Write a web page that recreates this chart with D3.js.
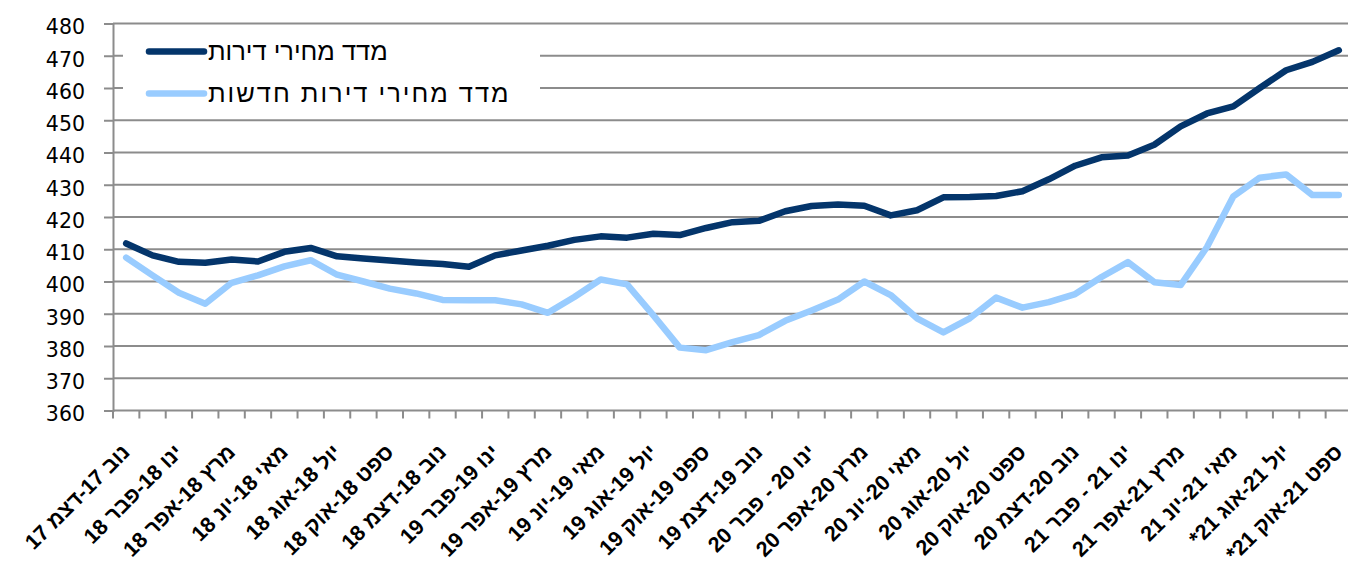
<!DOCTYPE html>
<html><head><meta charset="utf-8">
<script src="https://cdn.jsdelivr.net/npm/d3@7/dist/d3.min.js"></script>
<style>
html,body{margin:0;padding:0;background:#fff;}
svg{display:block;}
</style></head>
<body>
<svg id="chart" width="1348" height="567"></svg>
<script>
const categories = [
"נוב 17-דצמ 17","דצמ 17-ינו 18","ינו 18-פבר 18","פבר 18-מרץ 18","מרץ 18-אפר 18","אפר 18-מאי 18",
"מאי 18-יונ 18","יונ 18-יול 18","יול 18-אוג 18","אוג 18-ספט 18","ספט 18-אוק 18","אוק 18-נוב 18",
"נוב 18-דצמ 18","דצמ 18-ינו 19","ינו 19-פבר 19","פבר 19-מרץ 19","מרץ 19-אפר 19","אפר 19-מאי 19",
"מאי 19-יונ 19","יונ 19-יול 19","יול 19-אוג 19","אוג 19-ספט 19","ספט 19-אוק 19","אוק 19-נוב 19",
"נוב 19-דצמ 19","דצמ 19-ינו 20","ינו 20 - פבר 20","פבר 20-מרץ 20","מרץ 20-אפר 20","אפר 20-מאי 20",
"מאי 20-יונ 20","יונ 20-יול 20","יול 20-אוג 20","אוג 20-ספט 20","ספט 20-אוק 20","אוק 20-נוב 20",
"נוב 20-דצמ 20","דצמ 20-ינו 21","ינו 21 - פבר 21","פבר 21-מרץ 21","מרץ 21-אפר 21","אפר 21-מאי 21",
"מאי 21-יונ 21","יונ 21-יול 21","יול 21-אוג 21*","אוג 21-ספט 21*","ספט 21-אוק 21*"
];
// every other category carries a visible label
const tickLabels = categories.filter((d, i) => i % 2 === 0);

const seriesNames = ["מדד מחירי דירות", "מדד מחירי דירות חדשות"];
const housingIndex = [
411.8,408.1,406.1,405.8,406.8,406.2,409.2,410.4,407.8,407.1,406.5,405.9,
405.4,404.6,408.1,409.6,411.1,412.9,414.0,413.6,414.8,414.4,416.6,418.4,
418.8,421.8,423.4,423.9,423.5,420.5,422.1,426.1,426.2,426.5,428.0,431.7,
435.9,438.5,439.1,442.4,448.1,452.1,454.3,460.0,465.5,468.1,471.7
];
const newHousingIndex = [
407.4,401.9,396.5,393.1,399.6,401.9,404.7,406.6,402.1,400.0,397.8,396.3,
394.3,394.2,394.2,392.9,390.3,395.2,400.6,399.1,389.5,379.5,378.7,381.2,
383.4,387.8,391.0,394.4,400.0,395.8,388.6,384.2,388.6,395.0,391.9,393.6,
396.1,401.4,406.0,399.8,398.9,410.7,426.4,432.2,433.2,426.8,426.8
];
const yTicks = [360,370,380,390,400,410,420,430,440,450,460,470,480];
const colors = ["#04356b", "#99ccff"];

const svg = d3.select("#chart");
const plotLeft = 113, plotRight = 1352, plotTop = 23.5, plotBottom = 410.5;

const x = d3.scaleBand().domain(d3.range(categories.length)).range([plotLeft, plotRight]).paddingInner(0).paddingOuter(0);
const y = d3.scaleLinear().domain([360, 480]).range([plotBottom, plotTop]);
const cx = i => x(i) + x.bandwidth() / 2;

const gridColor = "#8c8c8c";

// gridlines
svg.append("g").selectAll("line").data(yTicks.filter(v => v > 360)).join("line")
  .attr("x1", plotLeft).attr("x2", plotRight)
  .attr("y1", d => y(d)).attr("y2", d => y(d))
  .attr("stroke", gridColor).attr("stroke-width", 2);

// y axis
const yAxis = d3.axisLeft(y).tickValues(yTicks).tickSize(9).tickPadding(19).tickFormat(d3.format("d"));
const gy = svg.append("g").attr("transform", `translate(${plotLeft},0)`).call(yAxis);
gy.select(".domain").attr("stroke", gridColor).attr("stroke-width", 2);
gy.selectAll(".tick line").attr("stroke", gridColor).attr("stroke-width", 2);
gy.selectAll(".tick text").attr("fill", "#000").attr("dy", "0.5em")
  .style("font-family", "'DejaVu Sans', sans-serif").style("font-size", "20.5px");

// x axis (ticks at category boundaries)
const boundaries = d3.range(categories.length + 1);
svg.append("g").selectAll("line").data(boundaries).join("line")
  .attr("x1", i => i < categories.length ? x(i) : plotRight)
  .attr("x2", i => i < categories.length ? x(i) : plotRight)
  .attr("y1", plotBottom).attr("y2", plotBottom + 8)
  .attr("stroke", gridColor).attr("stroke-width", 2);
svg.append("line").attr("x1", plotLeft).attr("x2", plotRight).attr("y1", plotBottom).attr("y2", plotBottom)
  .attr("stroke", gridColor).attr("stroke-width", 2);

// x labels
svg.append("g").selectAll("text").data(tickLabels).join("text")
  .attr("transform", (d, k) => `translate(${cx(k * 2) + 5},${plotBottom + 43}) rotate(-45)`)
  .attr("direction", "rtl")
  .style("direction", "rtl")
  .attr("text-anchor", "start")
  .style("font-family", "'Liberation Sans', Arial, sans-serif")
  .style("font-weight", "bold")
  .style("font-size", "21.5px")
  .attr("fill", "#000")
  .text(d => d);

// lines
const line = d3.line().x((d, i) => cx(i)).y(d => y(d));
[housingIndex, newHousingIndex].forEach((s, k) => {
  svg.append("path").datum(s)
    .attr("d", line)
    .attr("fill", "none")
    .attr("stroke", colors[k])
    .attr("stroke-width", 6.5)
    .attr("stroke-linejoin", "round")
    .attr("stroke-linecap", "round");
});

// legend
const lg = svg.append("g");
lg.append("rect").attr("x", 123).attr("y", 33).attr("width", 417).attr("height", 77).attr("fill", "#fff");
seriesNames.forEach((name, k) => {
  const ly = 51.5 + k * 42;
  lg.append("line").attr("x1", 149).attr("x2", 204).attr("y1", ly).attr("y2", ly)
    .attr("stroke", colors[k]).attr("stroke-width", 6.5).attr("stroke-linecap", "round");
  lg.append("text").attr("x", 208).attr("y", ly + 8.5)
    .attr("direction", "rtl").style("direction", "rtl")
    .attr("text-anchor", "end")
    .style("font-family", "'Liberation Sans', Arial, sans-serif")
    .style("font-size", "25.5px")
    .style("letter-spacing", k === 1 ? "2px" : "0px")
    .attr("fill", "#000")
    .text(name);
});
</script>
</body></html>
